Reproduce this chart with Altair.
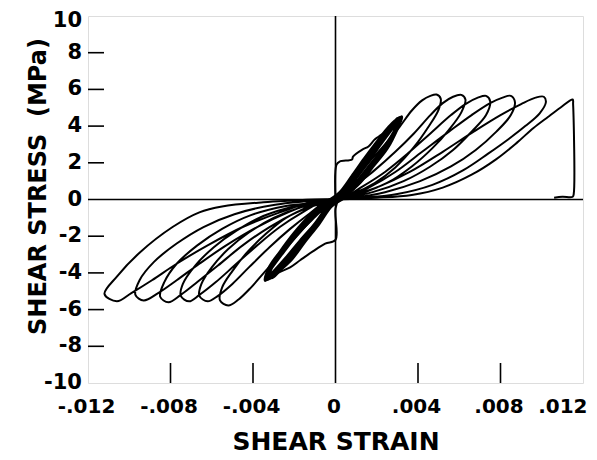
import altair as alt
import pandas as pd

# ---------------- axis ticks / labels ----------------
x_ticks = [-0.012, -0.008, -0.004, 0.0, 0.004, 0.008, 0.012]
y_ticks = [-10, -8, -6, -4, -2, 0, 2, 4, 6, 8, 10]
y_tick_labels = ["-10", "-8", "-6", "-4", "-2", "0", "2", "4", "6", "8", "10"]
x_inner_ticks = [-0.008, -0.004, 0.004, 0.008]
y_inner_ticks = [-8, -6, -4, -2, 2, 4, 6, 8]

# ---------------- traced hysteresis path (strain, stress MPa) ----------------
virgin_strain = [0.0, 0.00005, 0.0002, 0.0008, 0.00085, 0.0013, 0.0016, 0.0019, 0.0021, 0.0028, 0.0031]
virgin_stress = [0.0, 1.9, 2.07, 2.18, 2.34, 2.72, 2.89, 3.27, 3.43, 3.98, 4.45]

negvirgin_strain = [0.0029, 0.0024, 0.0017, 0.0010, 0.0002, 0.0, 0.0, -0.0005, -0.0011, -0.0017, -0.0022, -0.0028, -0.0033]
negvirgin_stress = [3.8, 2.9, 1.9, 0.9, 0.1, -0.5, -2.2, -2.4, -2.83, -3.3, -3.7, -4.0, -4.35]

band1_strain = [-0.0031, -0.0025, -0.0018, -0.0010, -0.0003, 0.0003, 0.0009, 0.0015, 0.0021, 0.0027, 0.0031,
                0.0029, 0.0024, 0.0017, 0.0010, 0.0003, -0.0003, -0.0009, -0.0016, -0.0022, -0.0028, -0.0032]
band1_stress = [-3.7, -2.8, -1.8, -0.9, -0.15, 0.3, 1.2, 2.1, 3.0, 3.9, 4.45,
                3.8, 2.9, 1.9, 0.9, 0.15, -0.3, -1.2, -2.2, -3.1, -3.8, -4.3]
band2_strain = [-0.0031, -0.0026, -0.0019, -0.0011, -0.0004, 0.0002, 0.0008, 0.0014, 0.0020, 0.0026, 0.0030,
                0.0029, 0.0025, 0.0018, 0.0011, 0.0004, -0.0002, -0.0008, -0.0015, -0.0021, -0.0027, -0.0031]
band2_stress = [-3.6, -2.8, -1.8, -0.9, -0.15, 0.35, 1.25, 2.2, 3.1, 3.95, 4.35,
                3.7, 2.8, 1.8, 0.85, 0.1, -0.35, -1.3, -2.3, -3.2, -3.85, -4.25]
band3_strain = [-0.0032, -0.0027, -0.0020, -0.0012, -0.0004, 0.0003, 0.0010, 0.0016, 0.0022, 0.0028, 0.0032,
                0.0030, 0.0026, 0.0019, 0.0012, 0.0004, -0.0002, -0.0009, -0.0017, -0.0024, -0.0030, -0.0034]
band3_stress = [-3.75, -2.9, -1.85, -0.85, -0.1, 0.3, 1.2, 2.1, 3.05, 3.95, 4.5,
                3.9, 3.0, 1.95, 0.95, 0.15, -0.35, -1.25, -2.25, -3.2, -3.95, -4.4]
band4_strain = [-0.0032, -0.0026, -0.0019, -0.0011, -0.0003, 0.0003, 0.0009, 0.0016, 0.0022, 0.0027, 0.0030,
                0.0029, 0.0024, 0.0018, 0.0011, 0.0003, -0.0003, -0.0009, -0.0016, -0.0022, -0.0028, -0.0033]
band4_stress = [-3.7, -2.75, -1.75, -0.85, -0.1, 0.35, 1.2, 2.2, 3.1, 3.85, 4.4,
                3.75, 2.85, 1.95, 0.95, 0.15, -0.3, -1.2, -2.2, -3.1, -3.85, -4.35]
bandend_strain = [-0.0031, -0.0025, -0.0018, -0.0010, -0.0003]
bandend_stress = [-3.7, -2.8, -1.8, -0.9, -0.15]

p1_strain = [0.0003, 0.0009, 0.0016, 0.0024, 0.0031, 0.0037, 0.0042, 0.0046, 0.0049, 0.0051, 0.0050,
             0.0045, 0.0038, 0.0029, 0.0019, 0.0008, -0.0003]
p1_stress = [0.3, 1.1, 2.0, 3.0, 3.95, 4.85, 5.4, 5.65, 5.72, 5.5, 4.9,
             3.95, 2.85, 1.75, 0.9, 0.3, -0.05]
n1_strain = [-0.0010, -0.0018, -0.0026, -0.0034, -0.0041, -0.0047, -0.0052, -0.0056, -0.0055, -0.0050,
             -0.0043, -0.0034, -0.0024, -0.0012, 0.0001]
n1_stress = [-0.9, -1.9, -2.9, -3.9, -4.8, -5.45, -5.78, -5.5, -4.8, -3.9,
             -2.9, -1.9, -1.0, -0.4, 0.0]

p2_strain = [0.0010, 0.0019, 0.0029, 0.0038, 0.0046, 0.0052, 0.0057, 0.0061, 0.0063, 0.0061, 0.0055,
             0.0047, 0.0037, 0.0025, 0.0012, -0.0003]
p2_stress = [0.8, 1.6, 2.6, 3.6, 4.6, 5.25, 5.6, 5.7, 5.45, 4.75, 3.8,
             2.8, 1.8, 0.9, 0.35, 0.0]
n2_strain = [-0.0013, -0.0022, -0.0032, -0.0042, -0.0050, -0.0057, -0.0062, -0.0066, -0.0065, -0.0060,
             -0.0052, -0.0042, -0.0030, -0.0016, 0.0002]
n2_stress = [-0.8, -1.6, -2.6, -3.7, -4.6, -5.25, -5.55, -5.25, -4.6, -3.7,
             -2.7, -1.8, -1.0, -0.4, 0.0]

p3_strain = [0.0013, 0.0024, 0.0035, 0.0046, 0.0056, 0.0063, 0.0069, 0.0073, 0.0075, 0.0073, 0.0066,
             0.0057, 0.0046, 0.0033, 0.0018, 0.0002, -0.0005]
p3_stress = [0.7, 1.5, 2.5, 3.6, 4.6, 5.2, 5.55, 5.65, 5.35, 4.6, 3.7,
             2.7, 1.8, 1.0, 0.4, 0.05, -0.05]
n3_strain = [-0.0016, -0.0027, -0.0038, -0.0049, -0.0058, -0.0066, -0.0071, -0.0075, -0.0074, -0.0068,
             -0.0059, -0.0048, -0.0035, -0.0019, 0.0003]
n3_stress = [-0.7, -1.5, -2.5, -3.6, -4.5, -5.2, -5.55, -5.25, -4.6, -3.6,
             -2.6, -1.7, -0.9, -0.35, 0.0]

p4_strain = [0.0017, 0.0029, 0.0042, 0.0055, 0.0066, 0.0075, 0.0081, 0.0085, 0.0087, 0.0085, 0.0078,
             0.0068, 0.0056, 0.0041, 0.0024, 0.0006, -0.0006]
p4_stress = [0.7, 1.5, 2.6, 3.7, 4.6, 5.25, 5.55, 5.65, 5.3, 4.6, 3.7,
             2.7, 1.8, 1.0, 0.4, 0.05, -0.1]
n4_strain = [-0.0019, -0.0032, -0.0045, -0.0057, -0.0067, -0.0075, -0.0081, -0.0085, -0.0083, -0.0077,
             -0.0067, -0.0055, -0.0041, -0.0024, 0.0003]
n4_stress = [-0.7, -1.5, -2.5, -3.6, -4.5, -5.2, -5.6, -5.3, -4.5, -3.5,
             -2.5, -1.6, -0.85, -0.35, 0.0]

p5_strain = [0.0021, 0.0036, 0.0052, 0.0067, 0.0080, 0.0090, 0.0097, 0.0101, 0.0102, 0.0099, 0.0092,
             0.0084, 0.0074, 0.0062, 0.0047, 0.0030, 0.0010, -0.0008]
p5_stress = [0.7, 1.5, 2.6, 3.7, 4.6, 5.2, 5.55, 5.6, 5.3, 4.7, 4.0,
             3.3, 2.5, 1.6, 0.8, 0.3, 0.05, -0.1]
n5_strain = [-0.0023, -0.0038, -0.0053, -0.0066, -0.0077, -0.0086, -0.0093, -0.0097, -0.0095, -0.0088,
             -0.0077, -0.0064, -0.0049, -0.0030, 0.0003]
n5_stress = [-0.7, -1.5, -2.5, -3.5, -4.4, -5.1, -5.5, -5.2, -4.4, -3.4,
             -2.4, -1.5, -0.8, -0.3, 0.05]

n6_strain = [-0.0010, -0.0027, -0.0045, -0.0062, -0.0077, -0.0089, -0.0099, -0.0106, -0.0112, -0.0106,
             -0.0095, -0.0079, -0.0066, -0.0055, -0.0035, -0.0010]
n6_stress = [-0.1, -0.7, -1.5, -2.5, -3.5, -4.4, -5.1, -5.55, -5.15, -4.2,
             -2.9, -1.5, -0.7, -0.38, -0.15, 0.0]

final_strain = [0.0020, 0.0037, 0.0052, 0.0066, 0.0078, 0.0088, 0.0096, 0.0103, 0.0109, 0.0115, 0.01152,
                0.01155, 0.0115, 0.0110, 0.0106]
final_stress = [0.1, 0.25, 0.65, 1.35, 2.2, 3.1, 3.9, 4.5, 5.0, 5.45, 5.2,
                0.3, 0.15, 0.15, 0.1]

band_strain = band1_strain + band2_strain + band3_strain + band4_strain + bandend_strain
band_stress = band1_stress + band2_stress + band3_stress + band4_stress + bandend_stress

path_strain = (virgin_strain + negvirgin_strain + band_strain
               + p1_strain + n1_strain + p2_strain + n2_strain
               + p3_strain + n3_strain + p4_strain + n4_strain + p5_strain + n5_strain
               + n6_strain + final_strain)
path_stress = (virgin_stress + negvirgin_stress + band_stress
               + p1_stress + n1_stress + p2_stress + n2_stress
               + p3_stress + n3_stress + p4_stress + n4_stress + p5_stress + n5_stress
               + n6_stress + final_stress)

path_df = pd.DataFrame({"strain": path_strain, "stress": path_stress,
                        "i": list(range(len(path_strain)))})
band_df = pd.DataFrame({"strain": band_strain, "stress": band_stress,
                        "i": list(range(len(band_strain)))})
ylab_df = pd.DataFrame({"stress": y_ticks, "label": y_tick_labels})

W, H = 495, 367
FONT = "DejaVu Sans"

x_scale = alt.Scale(domain=[-0.012, 0.012], nice=False, zero=False)
y_scale = alt.Scale(domain=[-10, 10], nice=False, zero=False)

x_axis = alt.Axis(
    values=x_ticks, ticks=False, domain=False, grid=False, labelOverlap=False,
    labelExpr="(datum.value < 0 ? '-' : '') + (datum.value == 0 ? '0' : '.' + format(abs(datum.value) * 1000, '03d'))",
    labelFont=FONT, labelFontWeight="bold", labelFontSize=20, labelColor="black",
    labelPadding=13, labelFlush=False,
    labelAlign={"condition": {"test": "datum.value > 0.011", "value": "right"}, "value": "center"},
    labelOffset={"condition": {"test": "datum.value > 0.011", "value": 4}, "value": -2},
    title="SHEAR STRAIN", titleFont=FONT, titleFontWeight="bold", titleFontSize=25,
    titleColor="black", titleBaseline="alphabetic", titleY=66,
)
y_axis = alt.Axis(
    values=y_ticks, ticks=False, domain=False, grid=False, labels=False,
    title="SHEAR STRESS\u00a0\u00a0(MPa)", titleFont=FONT, titleFontWeight="bold", titleFontSize=24,
    titleColor="black", titleBaseline="alphabetic", titleAngle=270, titleAlign="center",
    titleX=-43, titleY=170,
)

loops = alt.Chart(path_df).mark_line(
    color="black", strokeWidth=2, interpolate="catmull-rom", clip=True
).encode(
    x=alt.X("strain:Q", scale=x_scale, axis=x_axis),
    y=alt.Y("stress:Q", scale=y_scale, axis=y_axis),
    order=alt.Order("i:Q"),
)

band = alt.Chart(band_df).mark_line(
    color="black", strokeWidth=3.5, interpolate="catmull-rom", clip=True
).encode(
    x=alt.X("strain:Q", scale=x_scale),
    y=alt.Y("stress:Q", scale=y_scale),
    order=alt.Order("i:Q"),
)

ylabels = alt.Chart(ylab_df).mark_text(
    font=FONT, fontWeight="bold", fontSize=21, color="black",
    align="right", baseline="middle",
).encode(
    y=alt.Y("stress:Q", scale=y_scale),
    x=alt.value(-6),
    text="label:N",
).transform_filter("datum.stress < 9")

ylabel_top = alt.Chart(ylab_df).mark_text(
    font=FONT, fontWeight="bold", fontSize=21, color="black",
    align="right", baseline="middle", dy=5,
).encode(
    y=alt.Y("stress:Q", scale=y_scale),
    x=alt.value(-6),
    text="label:N",
).transform_filter("datum.stress > 9")

zero_v = alt.Chart(pd.DataFrame({"strain": [0.0]})).mark_rule(
    color="black", strokeWidth=1.6
).encode(x=alt.X("strain:Q", scale=x_scale))
zero_h = alt.Chart(pd.DataFrame({"stress": [0.0]})).mark_rule(
    color="black", strokeWidth=1.6
).encode(y=alt.Y("stress:Q", scale=y_scale))

xt = alt.Chart(pd.DataFrame({"strain": x_inner_ticks})).mark_rule(
    color="black", strokeWidth=1.6
).encode(x=alt.X("strain:Q", scale=x_scale), y=alt.value(H), y2=alt.value(H - 20))
yt = alt.Chart(pd.DataFrame({"stress": y_inner_ticks})).mark_rule(
    color="black", strokeWidth=1.6
).encode(y=alt.Y("stress:Q", scale=y_scale), x=alt.value(0), x2=alt.value(16))

chart = alt.layer(loops, band, zero_v, zero_h, xt, yt, ylabels, ylabel_top).properties(
    width=W, height=H,
    padding={"left": 80, "top": 8, "right": 6, "bottom": 72},
    autosize=alt.AutoSizeParams(type="none"),
).configure_view(
    stroke="black", strokeWidth=2
).configure_axis(
    labelOverlap=False
).configure(background="white")

chart.save("out.html", embed_options={"renderer": "svg", "actions": False})
